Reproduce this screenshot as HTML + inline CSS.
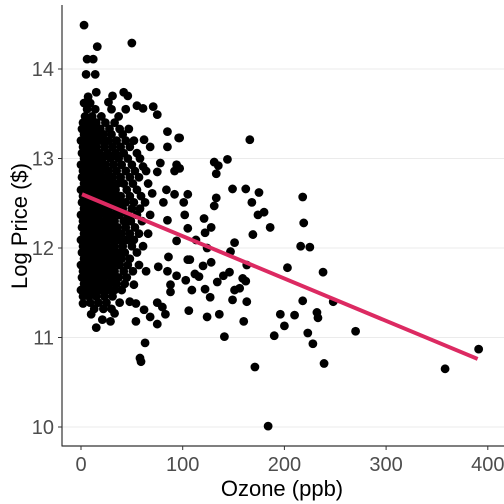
<!DOCTYPE html>
<html><head><meta charset="utf-8"><style>
html,body{margin:0;padding:0;background:#fff}
svg{display:block;font-family:"Liberation Sans",sans-serif}
</style></head><body>
<svg id="c" width="504" height="504" viewBox="0 0 504 504">
<g id="grid"></g>
<g id="pts"></g>
<g id="fit"></g>
<g id="axes"></g>
<text x="282" y="496" text-anchor="middle" font-size="22" fill="#000">Ozone (ppb)</text>
<text transform="translate(27,226) rotate(-90)" text-anchor="middle" font-size="22" fill="#000">Log Price ($)</text>
</svg>
<script>
const xTicks=[0,100,200,300,400];
const yTicks=[10,11,12,13,14];
const outX=[3,16,50,6,12,5,14,7,15,42,46,31,27,55,61,71,75,85,96,85,68,62,78,94,92,75,61,84,92,105,101,102,81,70,85,94,105,113,124,105,112,88,88,94,85,76,86,63,58,59,75,68,54,83,75,80,62,54,48,10,15,21,29,33,2,6,52,64,
166,144,131,135,133,149,162,175,168,218,219,180,174,186,169,216,225,203,238,218,248,196,210,232,233,200,223,270,228,190,239,171,358,391,184,141,160,163,149,136,124,106,151,156,134,159,162,140,146,127,122,109,103,116,120,128,107,147,151,122,128,121,163,131,133,97,97];
const outY=[14.49,14.25,14.29,14.11,14.11,13.94,13.94,13.69,13.74,13.74,13.70,13.70,13.63,13.59,13.56,13.58,13.49,13.30,13.23,13.13,13.13,13.21,12.95,12.93,12.86,12.85,12.91,12.65,12.60,12.60,12.51,12.37,12.51,12.61,12.31,12.08,12.22,12.09,12.00,11.87,11.71,11.59,11.51,11.69,11.74,11.79,11.90,10.94,10.77,10.73,11.15,11.23,11.18,11.26,11.39,11.34,11.31,11.38,11.40,11.26,11.11,11.20,11.18,11.27,11.38,11.47,11.59,11.74,
13.21,12.99,12.96,12.92,12.83,12.66,12.66,12.62,12.51,12.57,12.28,12.40,12.37,12.23,12.15,12.02,12.01,11.78,11.73,11.41,11.40,11.26,11.25,11.28,11.22,11.13,11.05,11.07,10.93,11.02,10.71,10.67,10.65,10.87,10.01,11.01,11.18,11.40,11.42,11.26,11.23,11.30,11.53,11.55,11.62,11.66,11.63,11.69,11.73,11.45,11.54,11.53,11.64,11.68,11.80,11.84,11.87,11.96,12.06,12.17,12.23,12.33,11.81,12.47,12.56,12.89,13.23];
const clusterY=[13.62,13.55,13.47,13.40,13.33,13.27,13.20,13.13,13.06,13.00,12.93,12.86,12.79,12.72,12.65,12.58,12.51,12.44,12.37,12.30,12.23,12.16,12.09,12.02,11.95,11.88,11.81,11.74,11.67,11.60,11.53,11.46,11.39,11.32];
const clusterX=[[3,9],[6,14,30,44],[4,11,20,37],[2,8,15,24,33],[1,5,12,19,28,38,47],[3,9,16,22,30,41],[0,6,13,20,27,35,44,52],[2,8,15,23,31,39,48],[1,5,11,18,26,34,42,55],[3,9,14,21,29,37,46,58],[0,6,12,17,24,32,40,50],[2,8,14,20,27,35,44,53,64],[1,5,11,18,25,31,39,48,57],[3,7,13,19,23,29,36,42,51,66],[0,6,10,16,22,28,34,45,55],[2,8,14,20,26,33,39,48,59],[1,5,11,17,24,30,37,44,52,63],[3,9,15,21,27,35,41,50,58],[0,6,12,18,25,31,38,46,55,68],[2,8,14,20,27,33,42,49,60],[1,5,11,17,23,29,36,44,53],[3,9,15,21,28,34,40,48,57,66],[0,6,12,18,24,31,38,45,52],[2,8,14,20,26,33,41,50,61],[1,5,11,17,23,29,36,43,55],[3,9,15,21,27,34,40,48],[0,6,12,18,24,31,38,46,57],[2,8,14,20,27,33,42,51],[1,5,11,17,23,30,37,45],[3,9,15,22,28,35,43],[0,6,12,19,26,33,40],[2,8,15,23,31],[9,17,25,38],[13,22,30]];
const fitX=[1,390];
const fitIntercept=12.605, fitSlope=-0.00473;

const NS="http://www.w3.org/2000/svg";
const sx=v=>81+v*1.017;
const sy=v=>69+(14-v)*89.5;
function mk(tag,attrs,parent){const e=document.createElementNS(NS,tag);for(const k in attrs)e.setAttribute(k,attrs[k]);parent.appendChild(e);return e;}
const grid=document.getElementById('grid'),pts=document.getElementById('pts'),fit=document.getElementById('fit'),axes=document.getElementById('axes');
yTicks.forEach(t=>{
  const l=mk('line',{x1:62,x2:504,y1:sy(t),y2:sy(t),stroke:'#ebebeb','stroke-width':1},grid);
  
  
  const tk=mk('line',{x1:58,x2:62,y1:sy(t),y2:sy(t),stroke:'#333','stroke-width':1},axes);
  
  
  const tx=mk('text',{x:54,y:sy(t)+7,'text-anchor':'end','font-size':20,fill:'#4d4d4d'},axes);
  tx.textContent=t;
  
  
});
xTicks.forEach(t=>{
  const tk=mk('line',{x1:sx(t),x2:sx(t),y1:446,y2:450,stroke:'#333','stroke-width':1},axes);
  
  
  const tx=mk('text',{x:sx(t),y:471,'text-anchor':'middle','font-size':20,fill:'#4d4d4d'},axes);
  tx.textContent=t;
  
  
});
function dot(x,y){
  const c=mk('circle',{cx:sx(x),cy:sy(y),r:4.4,fill:'#000'},pts);
  
  
}
clusterY.forEach((y,i)=>clusterX[i].forEach(x=>dot(x,y)));
outX.forEach((x,i)=>dot(x,outY[i]));
const fl=mk('line',{x1:sx(fitX[0]),y1:sy(fitIntercept+fitSlope*fitX[0]),x2:sx(fitX[1]),y2:sy(fitIntercept+fitSlope*fitX[1]),stroke:'#dc2a62','stroke-width':4},fit);


const ya=mk('line',{x1:62,x2:62,y1:5,y2:446.5,stroke:'#333','stroke-width':1.2},axes);


const xa=mk('line',{x1:62,x2:504,y1:446,y2:446,stroke:'#333','stroke-width':1.2},axes);


</script>
</body></html>
